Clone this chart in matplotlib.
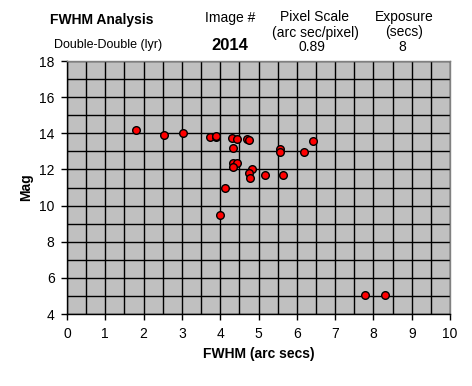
import numpy as np
import matplotlib
matplotlib.use("Agg")
from matplotlib import pyplot as plt

# FWHM (arc secs) vs magnitude
fwhm = [1.81, 2.54, 3.04, 3.74, 3.90, 3.90, 4.32, 4.45, 4.71, 4.76, 4.34,
        4.34, 4.45, 4.34, 4.84, 4.76, 4.79, 5.16, 5.65, 4.13, 4.00,
        5.55, 5.55, 6.20, 6.42, 7.79, 8.31]
mag = [14.2, 13.88, 14.03, 13.77, 13.77, 13.85, 13.72, 13.66, 13.70, 13.61, 13.16,
       12.33, 12.33, 12.11, 12.02, 11.78, 11.50, 11.67, 11.67, 11.0, 9.46,
       13.11, 12.94, 12.94, 13.55, 5.03, 5.03]

x_ticks = np.arange(0, 11, 1)
y_ticks = np.arange(4, 19, 2)

plt.rcParams['font.family'] = ['Liberation Sans', 'DejaVu Sans']

fig = plt.figure(figsize=(4.72, 3.86), dpi=100)
ax = fig.add_axes([67 / 472, 1 - 314 / 386, 383 / 472, 253 / 386])
ax.set_facecolor('#c0c0c0')

ax.set_xlim(0, 10)
ax.set_ylim(4, 18)
ax.set_xticks(x_ticks)
ax.set_yticks(y_ticks)
ax.set_xticks(np.arange(0, 10.01, 0.5), minor=True)
ax.set_yticks(np.arange(4, 18.01, 1), minor=True)
ax.grid(which='both', color='black', linewidth=1.0)
ax.set_axisbelow(True)
ax.tick_params(which='major', direction='out', length=4, width=1, labelsize=10, pad=5)
ax.tick_params(which='minor', length=0)

for side in ['left', 'bottom']:
    ax.spines[side].set_color('black')
    ax.spines[side].set_linewidth(1)
for side in ['top', 'right']:
    ax.spines[side].set_color('#808080')
    ax.spines[side].set_linewidth(1)

ax.plot(fwhm, mag, 'o', color='red', markeredgecolor='black', markersize=5.5,
        markeredgewidth=1, clip_on=False, zorder=3)

ax.set_xlabel('FWHM (arc secs)', fontsize=10, fontweight='bold', labelpad=5)
ax.set_ylabel('Mag', fontsize=10, fontweight='bold', labelpad=4)

# header block
fig.text(102 / 472, 1 - 20 / 386, 'FWHM Analysis', fontsize=10, fontweight='bold', ha='center', va='center')
fig.text(108 / 472, 1 - 45 / 386, 'Double-Double (lyr)', fontsize=9, ha='center', va='center')
fig.text(230 / 472, 1 - 18 / 386, 'Image #', fontsize=10, ha='center', va='center')
fig.text(230 / 472, 1 - 46 / 386, '2014', fontsize=12, fontweight='bold', ha='center', va='center')
fig.text(315 / 472, 1 - 17 / 386, 'Pixel Scale', fontsize=10, ha='center', va='center')
fig.text(315 / 472, 1 - 33 / 386, '(arc sec/pixel)', fontsize=10, ha='center', va='center')
fig.text(312 / 472, 1 - 47 / 386, '0.89', fontsize=10, ha='center', va='center')
fig.text(404 / 472, 1 - 17 / 386, 'Exposure', fontsize=10, ha='center', va='center')
fig.text(404 / 472, 1 - 32 / 386, '(secs)', fontsize=10, ha='center', va='center')
fig.text(402 / 472, 1 - 47 / 386, '8', fontsize=10, ha='center', va='center')

fig.savefig('out.png', dpi=100)
